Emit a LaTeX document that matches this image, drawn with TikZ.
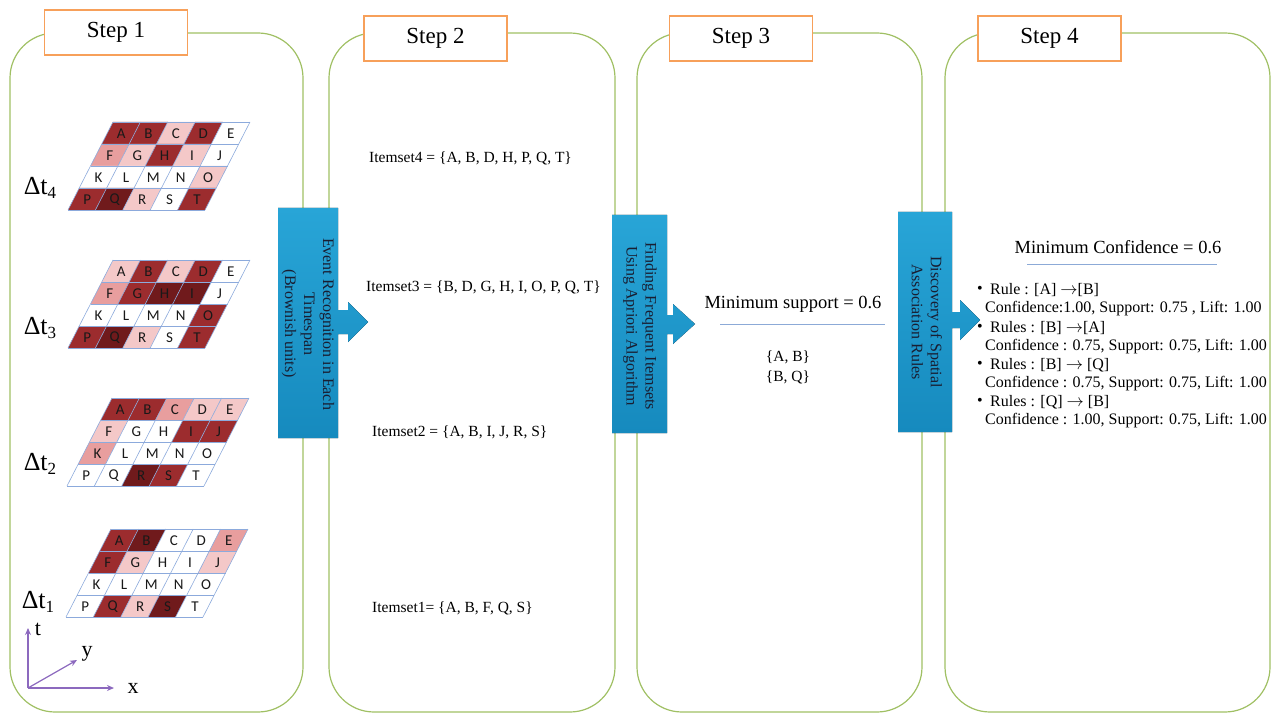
\documentclass[tikz,border=0pt]{standalone}
\usepackage{fontspec}
\setmainfont{Liberation Serif}
\newfontfamily\gridfont{Carlito}
\usetikzlibrary{arrows.meta}
\definecolor{panelgreen}{RGB}{160,192,100}
\definecolor{steporange}{RGB}{247,160,90}
\definecolor{arrowtop}{RGB}{40,165,215}
\definecolor{arrowbot}{RGB}{22,138,190}
\definecolor{arrowtext}{RGB}{25,30,50}
\definecolor{gridblue}{RGB}{140,170,220}
\definecolor{axispurple}{RGB}{140,105,190}
\definecolor{sepblue}{RGB}{140,170,215}
\definecolor{lp}{RGB}{244,200,200}
\definecolor{mp}{RGB}{232,158,158}
\definecolor{dk}{RGB}{156,44,46}
\definecolor{dd}{RGB}{112,26,28}
\definecolor{wh}{RGB}{255,255,255}
\tikzset{
  panel/.style={draw=panelgreen, line width=1.2pt, rounded corners=45pt},
  stepbox/.style={draw=steporange, line width=1.2pt, fill=white, minimum width=143pt, minimum height=45pt, inner sep=0pt, font=\fontsize{23}{26}\selectfont},
  gridline/.style={draw=gridblue, line width=0.6pt},
  gridletter/.style={font=\gridfont\fontsize{15}{16}\selectfont, text=black!90, inner sep=0pt},
  dtlabel/.style={font=\fontsize{26}{28}\selectfont, inner sep=0pt},
  bluearrow/.style={top color=arrowtop, bottom color=arrowbot, draw=none},
  arrowlabel/.style={rotate=-90, align=center, text=arrowtext, font=\fontsize{16}{19}\selectfont, inner sep=0pt},
  itemtext/.style={anchor=west, font=\fontsize{15.5}{18}\selectfont, inner sep=0pt},
  ruletext/.style={anchor=west, font=\fontsize{16}{18}\selectfont, inner sep=0pt},
  bigtext/.style={font=\fontsize{18.5}{21}\selectfont, inner sep=0pt},
  axis/.style={draw=axispurple, line width=1.2pt, -{Stealth[length=7pt,width=6pt]}},
  axislabel/.style={font=\fontsize{22}{24}\selectfont, inner sep=0pt},
  sepline/.style={draw=sepblue, line width=1pt}
}
\newcommand\drawgrid[4]{%
  \foreach \col/\lab [count=\i from 0] in {#4} {
    \pgfmathtruncatemacro\rr{\i/5}
    \pgfmathtruncatemacro\cc{\i-5*\rr}
    \pgfmathsetmacro\xa{#2+27.4*\cc-11.25*\rr}
    \pgfmathsetmacro\ya{#3+22*\rr}
    \fill[\col] (\xa,\ya) -- ++(27.4,0) -- ++(-11.25,22) -- ++(-27.4,0) -- cycle;
  }
  \foreach \k in {0,...,4} \draw[gridline] (#2-11.25*\k,#3+22*\k) -- ++(137,0);
  \foreach \k in {0,...,5} \draw[gridline] (#2+27.4*\k,#3) -- ++(-45,88);
  \foreach \col/\lab [count=\i from 0] in {#4} {
    \pgfmathtruncatemacro\rr{\i/5}
    \pgfmathtruncatemacro\cc{\i-5*\rr}
    \pgfmathsetmacro\xa{#2+27.4*\cc-11.25*\rr}
    \pgfmathsetmacro\ya{#3+22*\rr}
    \node[gridletter] (#1\lab) at (\xa+8.1,\ya+11.5) {\lab};
  }
}
\begin{document}
\begin{tikzpicture}[x=1pt,y=-1pt]
\useasboundingbox (0,0) rectangle (1274,714);
% panels
\draw[panel] (10,33) rectangle (303,712);
\draw[panel] (329,33) rectangle (615,712);
\draw[panel] (637,33) rectangle (922,712);
\draw[panel] (945,33) rectangle (1270,712);
% step boxes
\node[stepbox] (s1) at (116,32.5) {Step 1};
\node[stepbox] (s2) at (435.5,38.5) {Step 2};
\node[stepbox] (s3) at (741,38.5) {Step 3};
\node[stepbox] (s4) at (1049.5,38.5) {Step 4};
% grids
\drawgrid{ga}{113}{122}{dk/A,dk/B,lp/C,dk/D,wh/E,mp/F,lp/G,dk/H,lp/I,wh/J,wh/K,wh/L,wh/M,wh/N,lp/O,dk/P,dd/Q,lp/R,wh/S,dk/T}
\drawgrid{gb}{113}{260}{lp/A,dk/B,lp/C,dk/D,wh/E,mp/F,dk/G,dd/H,dd/I,wh/J,wh/K,wh/L,wh/M,wh/N,dk/O,dk/P,dd/Q,lp/R,wh/S,dk/T}
\drawgrid{gc}{112}{398}{dk/A,dk/B,mp/C,lp/D,lp/E,lp/F,wh/G,wh/H,dk/I,dk/J,mp/K,wh/L,wh/M,wh/N,wh/O,wh/P,wh/Q,dd/R,dk/S,wh/T}
\drawgrid{gd}{111}{529}{dk/A,dd/B,wh/C,wh/D,mp/E,dk/F,lp/G,wh/H,wh/I,lp/J,wh/K,wh/L,wh/M,wh/N,wh/O,wh/P,dk/Q,lp/R,dd/S,wh/T}
% delta t labels
\node[dtlabel] (dt4) at (40,188) {Δt\raisebox{-0.3ex}{\fontsize{17}{17}\selectfont 4}};
\node[dtlabel] (dt3) at (40,328) {Δt\raisebox{-0.3ex}{\fontsize{17}{17}\selectfont 3}};
\node[dtlabel] (dt2) at (40,464) {Δt\raisebox{-0.3ex}{\fontsize{17}{17}\selectfont 2}};
\node[dtlabel] (dt1) at (38,602) {Δt\raisebox{-0.3ex}{\fontsize{17}{17}\selectfont 1}};
% axes
\coordinate (o) at (28,688);
\coordinate (tend) at (28,628);
\coordinate (xend) at (114,688);
\coordinate (yend) at (77,660);
\draw[axis] (o) -- (tend);
\draw[axis] (o) -- (xend);
\draw[axis] (o) -- (yend);
\node[axislabel] (tl) at (38,629) {t};
\node[axislabel] (yl) at (87,654) {y};
\node[axislabel] (xl) at (133,688) {x};
% blue arrows
\fill[bluearrow] (278,208) -- (338,208) -- (338,310) -- (348,310) -- (348,302) -- (368,322) -- (348,342) -- (348,334) -- (338,334) -- (338,438) -- (278,438) -- cycle;
\node[arrowlabel] (a1) at (308,324) {Event Recognition in Each\\Timespan\\(Brownish units)};
\fill[bluearrow] (612,215) -- (667,215) -- (667,315) -- (673,315) -- (673,304) -- (695,324) -- (673,344) -- (673,334) -- (667,334) -- (667,433) -- (612,433) -- cycle;
\node[arrowlabel] (a2) at (640,326) {Finding Frequent Itemsets\\Using Apriori Algorithm};
\fill[bluearrow] (898,212) -- (952,212) -- (952,312) -- (960,312) -- (960,300) -- (980,320) -- (960,340) -- (960,328) -- (952,328) -- (952,432) -- (898,432) -- cycle;
\node[arrowlabel] (a3) at (927,322) {Discovery of Spatial\\Association Rules};
% step 2 texts
\node[itemtext] (i4) at (369,158) {Itemset4 = \{A, B, D, H, P, Q, T\}};
\node[itemtext] (i3) at (366,287) {Itemset3 = \{B, D, G, H, I, O, P, Q, T\}};
\node[itemtext] (i2) at (372,432) {Itemset2 = \{A, B, I, J, R, S\}};
\node[itemtext] (i1) at (372,608) {Itemset1= \{A, B, F, Q, S\}};
% step 3
\node[bigtext] (ms) at (793,304) {Minimum support = 0.6};
\draw[sepline] (720,324) -- (885,324);
\node[itemtext, anchor=center] (ab) at (788,357) {\{A, B\}};
\node[itemtext, anchor=center] (bq) at (788,377) {\{B, Q\}};
% step 4
\node[bigtext] (mc) at (1118,247) {Minimum Confidence = 0.6};
\draw[sepline] (1027,264) -- (1217,264);
\node[ruletext] (b1) at (977,290) {•};
\node[ruletext] (r1) at (990,290) {Rule : [A] $\rightarrow$[B]};
\node[ruletext] (c1) at (985,309) {Confidence:1.00, Support: 0.75 , Lift: 1.00};
\node[ruletext] (b2) at (977,328) {•};
\node[ruletext] (r2) at (990,328) {Rules : [B] $\rightarrow$[A]};
\node[ruletext] (c2) at (985,347) {Confidence : 0.75, Support: 0.75, Lift: 1.00};
\node[ruletext] (b3) at (977,365) {•};
\node[ruletext] (r3) at (990,365) {Rules : [B] $\rightarrow$ [Q]};
\node[ruletext] (c3) at (985,384) {Confidence : 0.75, Support: 0.75, Lift: 1.00};
\node[ruletext] (b4) at (977,402) {•};
\node[ruletext] (r4) at (990,402) {Rules : [Q] $\rightarrow$ [B]};
\node[ruletext] (c4) at (985,421) {Confidence : 1.00, Support: 0.75, Lift: 1.00};
\end{tikzpicture}
\end{document}
